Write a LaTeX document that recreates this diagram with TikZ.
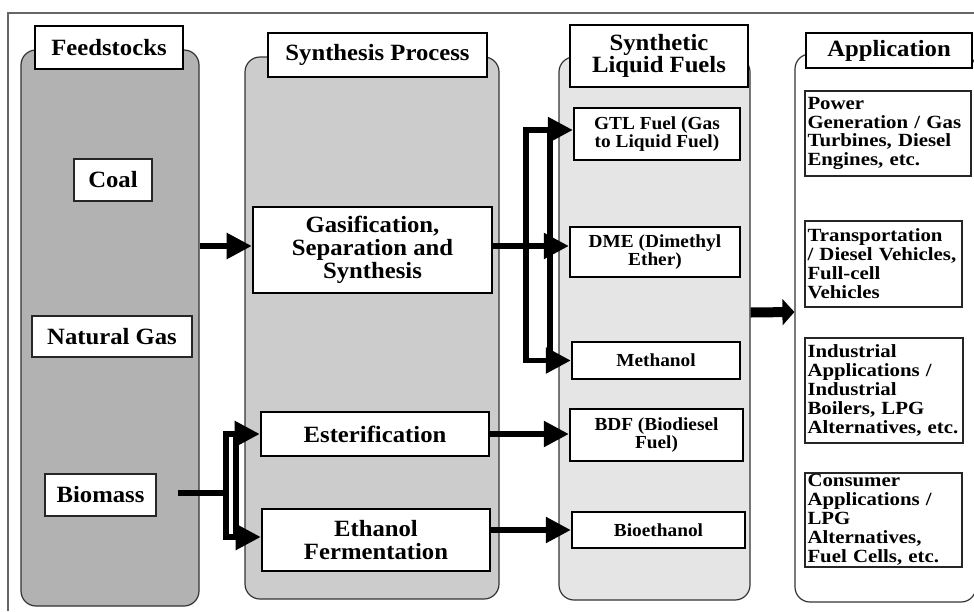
\documentclass[tikz,border=0pt]{standalone}
\usepackage{fontspec}
\setmainfont{Liberation Serif}
\newfontfamily\hdfont[FakeStretch=1.06]{Liberation Serif}
\newfontfamily\fuelfont[FakeStretch=1.05]{Liberation Serif}
\newfontfamily\appfont[FakeStretch=1.12]{Liberation Serif}
\usetikzlibrary{arrows.meta}
\begin{document}
\begin{tikzpicture}[x=1pt,y=-1pt,
  column/.style={draw=black!80, line width=1.2pt, rounded corners=15pt, inner sep=0pt},
  titlebox/.style={draw=black, line width=2.6pt, fill=white, inner sep=0pt, align=center, font=\hdfont\fontsize{23.3}{22.5}\selectfont\bfseries},
  feedbox/.style={draw=black!85, line width=1.2pt, fill=white, inner sep=0pt, align=center, font=\hdfont\fontsize{23.3}{22.5}\selectfont\bfseries},
  procbox/.style={draw=black, line width=2.6pt, fill=white, inner sep=0pt, align=center, font=\hdfont\fontsize{23.3}{22.8}\selectfont\bfseries},
  fuelbox/.style={draw=black, line width=2.4pt, fill=white, inner sep=0pt, align=center, font=\fuelfont\fontsize{18.4}{18.6}\selectfont\bfseries},
  appbox/.style={draw=black!85, line width=1.2pt, fill=white, inner sep=0pt, inner xsep=2.5pt, align=left, font=\appfont\fontsize{18.6}{18.9}\selectfont\bfseries},
  conn/.style={line width=5.5pt},
  tipped/.style={-{Triangle[length=25pt,width=25pt]}},
  bigarrow/.style={line width=10pt,-{Triangle[length=12pt,width=26pt]}}
]
\useasboundingbox (0,0) rectangle (974,611);
\clip (0,0) rectangle (974,611);

% outer frame
\draw[black!60, line width=1.2pt] (8,611) -- (8,13) -- (974,13);

% columns
\node[column, fill=black!30, minimum width=178pt, minimum height=556pt] (col1) at (110,328) {};
\node[column, fill=black!20, minimum width=254pt, minimum height=542pt] (col2) at (372,328) {};
\node[column, fill=black!10, minimum width=191pt, minimum height=543pt] (col3) at (654.5,328.5) {};
\node[column, fill=white, minimum width=181pt, minimum height=548pt] (col4) at (885.5,328) {};

% titles
\node[titlebox, minimum width=148pt, minimum height=43pt] (t1) at (109,47.5) {Feedstocks};
\node[titlebox, minimum width=219pt, minimum height=44pt] (t2) at (377.5,55) {Synthesis Process};
\node[titlebox, minimum width=178pt, minimum height=62pt] (t3) at (659,56) {Synthetic\\Liquid Fuels};
\node[titlebox, minimum width=166pt, minimum height=35pt] (t4) at (889,50.5) {Application};

% feedstocks
\node[feedbox, minimum width=78pt, minimum height=42pt] (coal) at (113,180) {Coal};
\node[feedbox, minimum width=160pt, minimum height=41pt] (gas) at (112,336.5) {Natural Gas};
\node[feedbox, minimum width=111pt, minimum height=42pt] (biomass) at (100.5,495) {Biomass};

% processes
\node[procbox, minimum width=239pt, minimum height=86pt] (gasif) at (372.5,250) {Gasification,\\Separation and\\Synthesis};
\node[procbox, minimum width=228pt, minimum height=44pt] (ester) at (375,434) {Esterification};
\node[procbox, minimum width=228pt, minimum height=62pt] (ethanol) at (376,540) {Ethanol\\Fermentation};

% fuels
\node[fuelbox, minimum width=166pt, minimum height=52pt] (gtl) at (657,134) {GTL Fuel (Gas\\to Liquid Fuel)};
\node[fuelbox, minimum width=170pt, minimum height=50pt] (dme) at (655,252) {DME (Dimethyl\\Ether)};
\node[fuelbox, minimum width=168pt, minimum height=37pt] (methanol) at (656,360.5) {Methanol};
\node[fuelbox, minimum width=173pt, minimum height=52pt] (bdf) at (656.5,435) {BDF (Biodiesel\\Fuel)};
\node[fuelbox, minimum width=173pt, minimum height=36pt] (bioeth) at (658.5,530) {Bioethanol};

% applications
\node[appbox, text width=161pt, minimum height=85pt] (power) at (888,133.5) {Power\\Generation / Gas\\Turbines, Diesel\\Engines, etc.};
\node[appbox, text width=152pt, minimum height=86pt] (trans) at (883.5,264) {Transportation\\/ Diesel Vehicles,\\Full-cell\\Vehicles};
\node[appbox, text width=153pt, minimum height=105pt] (indus) at (884,390.5) {Industrial\\Applications /\\Industrial\\Boilers, LPG\\Alternatives, etc.};
\node[appbox, text width=152pt, minimum height=94pt] (consumer) at (883.5,520) {Consumer\\Applications /\\LPG\\Alternatives,\\Fuel Cells, etc.};

% connectors: feedstocks to gasification
\coordinate (ga) at ([yshift=4pt]gasif.west);
\draw[conn,tipped] (col1.east |- ga) -- (ga);

% biomass bracket
\coordinate (bs) at ([xshift=21pt,yshift=2pt]biomass.east);
\coordinate (bj) at (226,493);
\coordinate (ethA) at ([yshift=3pt]ethanol.west);
\draw[conn] (bs) -- (bj);
\draw[conn,tipped] (bj) |- (ester.west);
\draw[conn,tipped] (bj) |- (ethA);
\coordinate (bbt) at (236,434);
\coordinate (bbb) at (236,537);
\draw[conn] (bbt) -- (bbb);

% gasification bracket
\coordinate (gs) at ([yshift=4pt]gasif.east);
\coordinate (dA) at ([yshift=6pt]dme.west);
\draw[conn,tipped] (gs) -- (dA);
\coordinate (gj) at (526,246);
\coordinate (gtlA) at ([yshift=4pt]gtl.west);
\draw[conn,tipped] (gj) |- (gtlA);
\draw[conn,tipped] (gj) |- (methanol.west);
\coordinate (gbt) at (550,130);
\coordinate (gbb) at (550,360.5);
\draw[conn] (gbt) -- (gbb);

% esterification and ethanol
\draw[conn,tipped] (ester.east) -- (bdf.west |- ester.east);
\draw[conn,tipped] (ethanol.east |- bioeth.west) -- (bioeth.west);

% fuels to applications
\draw[bigarrow] ([yshift=16pt]col3.east) -- ([yshift=16pt]col4.west);
\end{tikzpicture}
\end{document}
